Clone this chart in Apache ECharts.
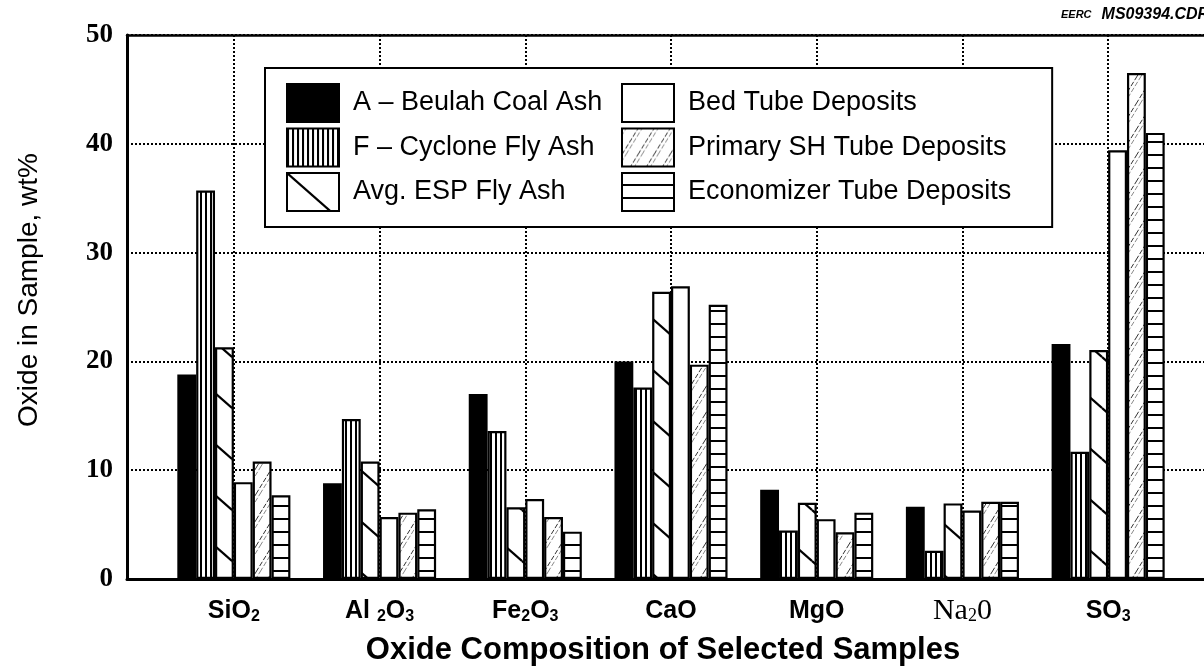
<!DOCTYPE html>
<html>
<head>
<meta charset="utf-8">
<script src="https://cdn.jsdelivr.net/npm/echarts@6/dist/echarts.min.js"></script>
<style>
  html, body { margin: 0; padding: 0; background: #fff; }
  #chart { width: 1204px; height: 667px; }
</style>
</head>
<body>
<div id="chart"></div>
<script>
// Oxide composition (wt%) of ash and deposit samples
const categories = ['SiO2', 'Al2O3', 'Fe2O3', 'CaO', 'MgO', 'Na2O', 'SO3'];
const seriesNames = [
  'A – Beulah Coal Ash',
  'F – Cyclone Fly Ash',
  'Avg. ESP Fly Ash',
  'Bed Tube Deposits',
  'Primary SH Tube Deposits',
  'Economizer Tube Deposits'
];
const beulahCoalAsh = [18.8, 8.8, 17.0, 20.0, 8.2, 6.65, 21.6];
const cycloneFlyAsh = [35.7, 14.7, 13.6, 17.6, 4.45, 2.6, 11.7];
const espFlyAsh     = [21.3, 10.8, 6.6, 26.4, 7.0, 6.95, 21.05];
const bedTube       = [8.9, 5.7, 7.35, 26.9, 5.5, 6.3, 39.4];
const primarySH     = [10.8, 6.1, 5.7, 19.7, 4.3, 7.1, 46.5];
const economizer    = [7.7, 6.4, 4.35, 25.2, 6.1, 7.1, 41.0];
const yTicks = [0, 10, 20, 30, 40, 50];

// category -> rich-text label with subscripts
const labelRich = {
  SiO2:  '{b|SiO}{s|2}',
  Al2O3: '{b|Al }{s|2}{b|O}{s|3}',
  Fe2O3: '{b|Fe}{s|2}{b|O}{s|3}',
  CaO:   '{b|CaO}',
  MgO:   '{b|MgO}',
  Na2O:  '{n|Na}{ns|2}{n|0}',
  SO3:   '{b|SO}{s|3}'
};

// fill patterns drawn on small repeating canvases
function tile(w, h, draw) {
  const c = document.createElement('canvas');
  c.width = w; c.height = h;
  const g = c.getContext('2d');
  g.fillStyle = '#fff';
  g.fillRect(0, 0, w, h);
  draw(g, w, h);
  return { image: c, repeat: 'repeat' };
}
const solidBlack = '#000';
const verticalStripes = tile(5, 4, (g, w, h) => {
  g.fillStyle = '#000';
  g.fillRect(0, 0, 2, h);
});
const backSlash = tile(58, 51, (g, w, h) => {
  g.strokeStyle = '#000';
  g.lineWidth = 2.2;
  for (const dx of [-w, 0, w]) {
    for (const dy of [-h, 0, h]) {
      g.beginPath();
      g.moveTo(dx, dy);
      g.lineTo(dx + w, dy + h);
      g.stroke();
    }
  }
});
const plainWhite = '#fff';
const lightHatch = tile(16, 26, (g, w, h) => {
  g.lineWidth = 1;
  g.setLineDash([5, 2]);
  const draw = (off, col) => {
    g.strokeStyle = col;
    for (const dx of [-w, 0, w]) {
      g.beginPath();
      g.moveTo(dx + off, h);
      g.lineTo(dx + off + w, 0);
      g.stroke();
    }
  };
  draw(0, '#333');
  draw(4, '#888');
});
const horizontalLines = tile(4, 13, (g, w, h) => {
  g.fillStyle = '#000';
  g.fillRect(0, 11, w, 2);
});

const fills = [solidBlack, verticalStripes, backSlash, plainWhite, lightHatch, horizontalLines];
const values = [beulahCoalAsh, cycloneFlyAsh, espFlyAsh, bedTube, primarySH, economizer];

const chart = echarts.init(document.getElementById('chart'), null, { renderer: 'canvas' });

const dotted = { type: [2, 2], width: 2, color: '#000' };
const legendText = { fontFamily: 'Liberation Sans', fontSize: 27, color: '#000', padding: [0, 0, 0, 9] };
const legendCommon = {
  orient: 'vertical',
  itemWidth: 52, itemHeight: 38, itemGap: 4.5,
  icon: 'rect',
  itemStyle: { borderColor: '#000', borderWidth: 2 },
  textStyle: legendText
};

const option = {
  animation: false,
  backgroundColor: '#fff',
  title: {
    text: '{a|EERC}  {b|MS09394.CDR}',
    left: 1056, top: 1,
    textStyle: {
      rich: {
        a: { fontFamily: 'Liberation Sans', fontStyle: 'italic', fontSize: 11, color: '#000' },
        b: { fontFamily: 'Liberation Sans', fontStyle: 'italic', fontWeight: 'bold', fontSize: 16, color: '#000' }
      }
    }
  },
  legend: [
    // left column, its frame spans both columns
    Object.assign({}, legendCommon, {
      left: 265, top: 68,
      padding: [15, 450, 15, 21],
      borderColor: '#000', borderWidth: 2,
      backgroundColor: '#fff',
      data: seriesNames.slice(0, 3),
      z: 4
    }),
    // right column
    Object.assign({}, legendCommon, {
      left: 621, top: 83,
      padding: 0,
      data: seriesNames.slice(3),
      z: 5
    })
  ],
  grid: [
    { left: 127, top: 35, width: 1120, height: 544, containLabel: false, outerBoundsMode: 'none' },   // frame + horizontal grid
    { left: 161, top: 35, width: 1020, height: 544, containLabel: false, outerBoundsMode: 'none' },   // bars
    { left: 233.86, top: 35, width: 874.3, height: 544, containLabel: false, outerBoundsMode: 'none' } // vertical grid at group centres
  ],
  xAxis: [
    { gridIndex: 0, type: 'value', min: 0, max: 1, position: 'bottom',
      axisLine: { show: true, lineStyle: { color: '#000', width: 3 } },
      axisTick: { show: false }, axisLabel: { show: false }, splitLine: { show: false } },
    { gridIndex: 0, type: 'value', min: 0, max: 1, position: 'top',
      axisLine: { show: true, onZero: false, lineStyle: { color: '#000', width: 2.5 } },
      axisTick: { show: false }, axisLabel: { show: false }, splitLine: { show: false } },
    { gridIndex: 1, type: 'category', data: categories,
      axisLine: { show: false }, axisTick: { show: false }, splitLine: { show: false },
      axisLabel: {
        margin: 18,
        formatter: v => labelRich[v],
        rich: {
          b: { fontFamily: 'Liberation Sans', fontWeight: 'bold', fontSize: 25, color: '#000', lineHeight: 28 },
          s: { fontFamily: 'Liberation Sans', fontWeight: 'bold', fontSize: 16, color: '#000', lineHeight: 14, verticalAlign: 'bottom' },
          n: { fontFamily: 'Liberation Serif', fontSize: 30, color: '#000', lineHeight: 28 },
          ns: { fontFamily: 'Liberation Serif', fontSize: 18, color: '#000', lineHeight: 15, verticalAlign: 'bottom' }
        }
      },
      name: 'Oxide Composition of Selected Samples',
      nameLocation: 'middle', nameGap: 56,
      nameTextStyle: { fontFamily: 'Liberation Sans', fontWeight: 'bold', fontSize: 31, color: '#000', padding: [0, 16, 0, 0] } },
    { gridIndex: 2, type: 'category', data: categories, boundaryGap: false,
      axisLine: { show: false }, axisTick: { show: false }, axisLabel: { show: false },
      splitLine: { show: true, interval: 0, lineStyle: dotted } }
  ],
  yAxis: [
    { gridIndex: 0, type: 'value', min: yTicks[0], max: yTicks[yTicks.length - 1], interval: yTicks[1] - yTicks[0],
      axisLine: { show: true, lineStyle: { color: '#000', width: 3 } },
      axisTick: { show: false },
      axisLabel: { margin: 14, fontFamily: 'Liberation Serif', fontWeight: 'bold', fontSize: 27, color: '#000' },
      splitLine: { show: true, lineStyle: dotted },
      name: 'Oxide in Sample, wt%', nameLocation: 'middle', nameGap: 84,
      nameTextStyle: { fontFamily: 'Liberation Sans', fontSize: 28, color: '#000', padding: [0, 0, 0, 34] } },
    { gridIndex: 1, type: 'value', min: 0, max: 50, show: false },
    { gridIndex: 2, type: 'value', min: 0, max: 50, show: false }
  ],
  series: seriesNames.map((name, i) => ({
    name,
    type: 'bar',
    xAxisIndex: 2,
    yAxisIndex: 1,
    data: values[i],
    barGap: '0%',
    barCategoryGap: '22.4%',
    itemStyle: { color: fills[i], borderColor: '#000', borderWidth: 2.2 },
    z: 3
  }))
};

chart.setOption(option);
</script>
</body>
</html>
